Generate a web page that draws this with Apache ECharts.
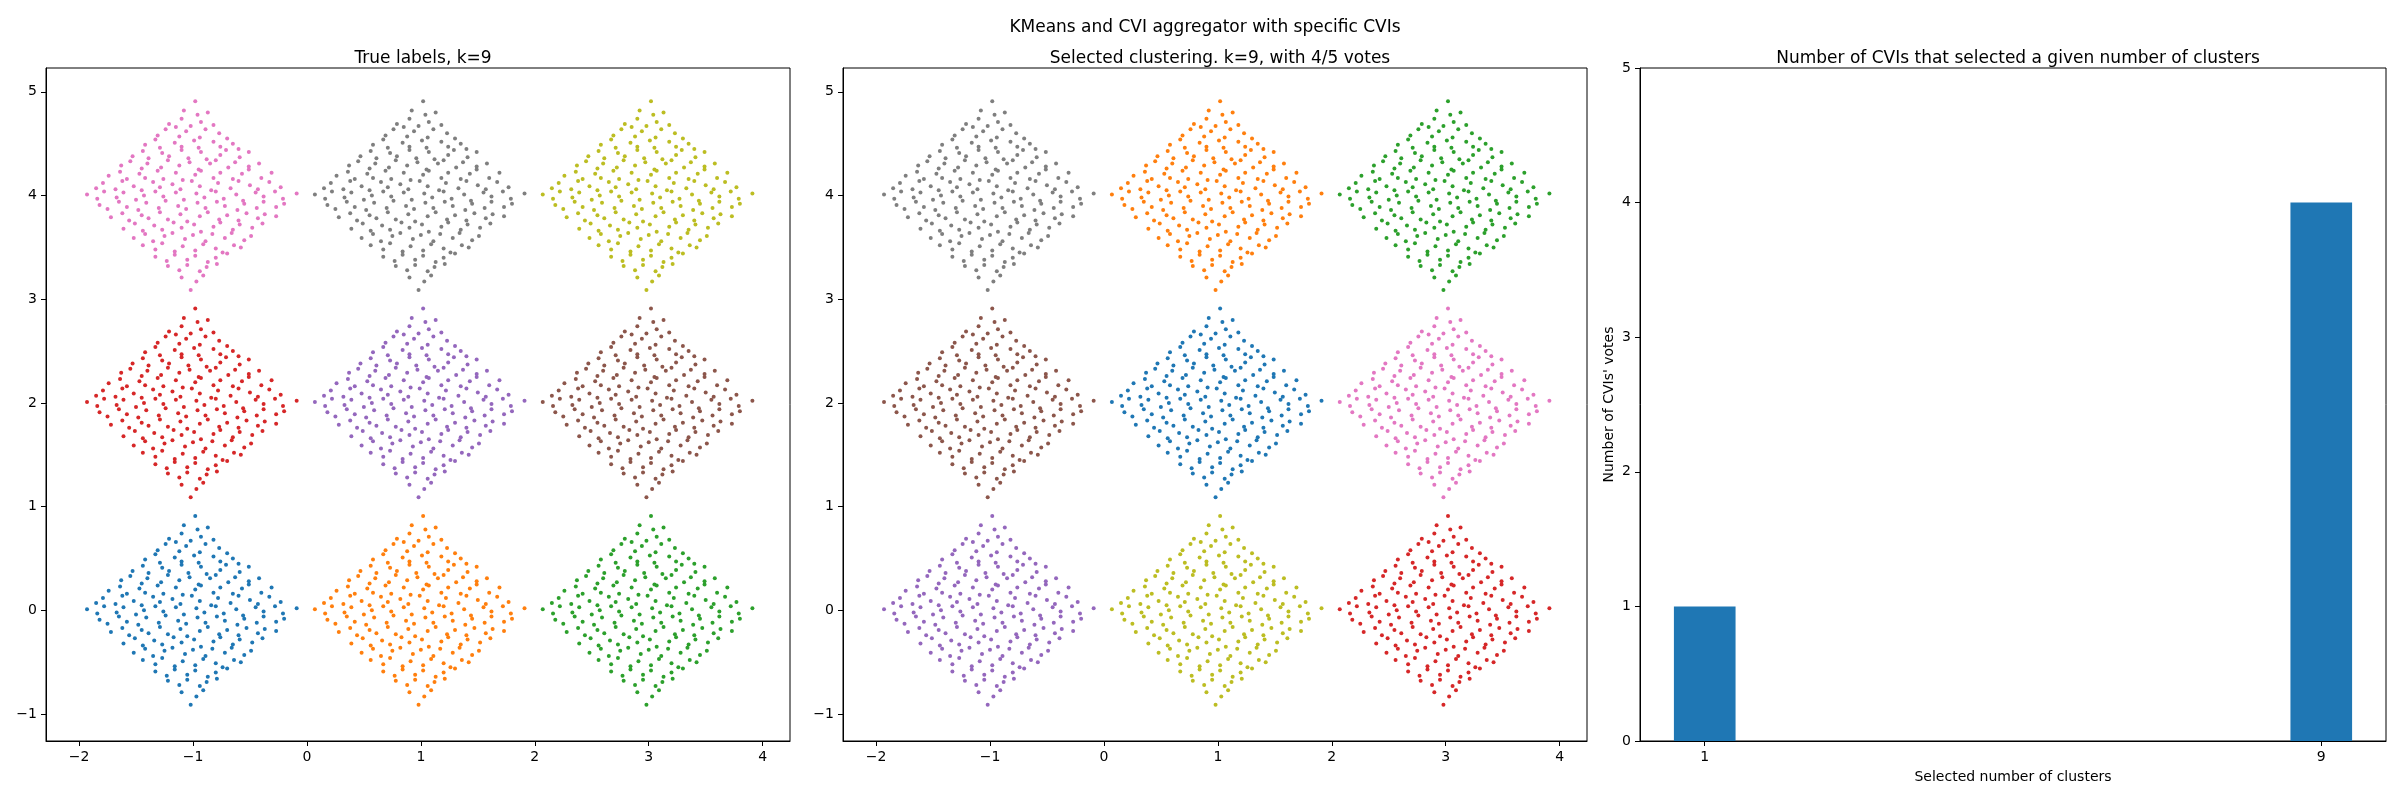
<!DOCTYPE html>
<html>
<head>
<meta charset="utf-8">
<script src="https://cdn.jsdelivr.net/npm/echarts@6/dist/echarts.min.js"></script>
<style>
html, body { margin: 0; padding: 0; background: #fff; }
#main { width: 2400px; height: 800px; }
</style>
</head>
<body>
<div id="main"></div>
<script>
// cluster centres (blobs are diamond shaped, same spread for each)
var centerX = [-1, 1, 3, -1, 1, 3, -1, 1, 3];
var centerY = [4, 4, 4, 2, 2, 2, 0, 0, 0];
// label of each blob: true labels / labels chosen by kmeans
var trueLabels = [6, 7, 8, 3, 4, 5, 0, 1, 2];
var predLabels = [7, 1, 2, 5, 0, 6, 4, 8, 3];
// offsets of the points inside one blob
var blobOffsets = [
  [0.02,0.91],
  [-0.08,0.82],[0.04,0.78],[0.13,0.8],
  [-0.21,0.69],[-0.1,0.74],[-0.02,0.67],[0.07,0.71],[0.18,0.68],[-0.15,0.66],
  [-0.31,0.58],[-0.24,0.64],[-0.12,0.57],[-0.06,0.62],[0.06,0.56],[0.11,0.64],[0.23,0.6],[0.3,0.55],
  [-0.42,0.49],[-0.33,0.54],[-0.29,0.46],[-0.16,0.51],[-0.1,0.47],[0.01,0.53],[0.05,0.46],[0.18,0.52],[0.24,0.47],[0.35,0.5],[0.4,0.45],
  [-0.53,0.38],[-0.44,0.43],[-0.39,0.36],[-0.27,0.41],[-0.21,0.38],[-0.1,0.44],[-0.04,0.36],[0.07,0.42],[0.12,0.35],[0.24,0.39],[0.29,0.44],[0.41,0.37],[0.49,0.42],
  [-0.63,0.29],[-0.55,0.33],[-0.45,0.26],[-0.4,0.31],[-0.28,0.27],[-0.22,0.34],[-0.12,0.29],[-0.03,0.32],[0.05,0.25],[0.15,0.31],[0.2,0.34],[0.31,0.27],[0.37,0.32],[0.49,0.28],[0.58,0.31],
  [-0.74,0.19],[-0.64,0.23],[-0.58,0.16],[-0.47,0.21],[-0.42,0.17],[-0.31,0.24],[-0.26,0.16],[-0.15,0.22],[-0.09,0.15],[0.02,0.2],[0.07,0.24],[0.18,0.17],[0.24,0.22],[0.35,0.16],[0.43,0.21],[0.49,0.25],[0.6,0.17],[0.69,0.22],
  [-0.85,0.07],[-0.79,0.12],[-0.68,0.06],[-0.62,0.14],[-0.52,0.09],[-0.45,0.05],[-0.35,0.13],[-0.29,0.08],[-0.18,0.11],[-0.11,0.06],[-0.01,0.14],[0.06,0.09],[0.16,0.05],[0.22,0.12],[0.33,0.07],[0.4,0.14],[0.5,0.1],[0.57,0.06],[0.67,0.13],[0.77,0.08],
  [-0.93,0.01],[-0.84,-0.03],[-0.78,0.04],[-0.67,-0.02],[-0.61,0.03],[-0.5,-0.04],[-0.43,0.0],[-0.33,0.04],[-0.26,-0.01],[-0.15,0.03],[-0.08,-0.04],[0.03,0.02],[0.1,-0.02],[0.2,0.04],[0.27,-0.03],[0.38,0.01],[0.44,-0.05],[0.55,0.03],[0.62,-0.01],[0.72,0.04],[0.79,-0.03],[0.91,0.02],
  [-0.82,-0.09],[-0.75,-0.13],[-0.65,-0.06],[-0.58,-0.11],[-0.48,-0.14],[-0.41,-0.07],[-0.3,-0.12],[-0.24,-0.05],[-0.13,-0.1],[-0.06,-0.13],[0.04,-0.07],[0.11,-0.12],[0.21,-0.06],[0.28,-0.1],[0.39,-0.14],[0.45,-0.08],[0.56,-0.12],[0.62,-0.06],[0.73,-0.11],[0.8,-0.08],
  [-0.72,-0.21],[-0.62,-0.17],[-0.56,-0.24],[-0.45,-0.19],[-0.39,-0.22],[-0.29,-0.16],[-0.22,-0.23],[-0.11,-0.18],[-0.05,-0.25],[0.06,-0.2],[0.13,-0.16],[0.23,-0.23],[0.3,-0.19],[0.4,-0.24],[0.47,-0.17],[0.57,-0.22],[0.63,-0.18],[0.73,-0.2],
  [-0.61,-0.32],[-0.51,-0.27],[-0.44,-0.34],[-0.34,-0.29],[-0.27,-0.33],[-0.17,-0.26],[-0.1,-0.31],[0.01,-0.28],[0.07,-0.35],[0.18,-0.3],[0.24,-0.26],[0.35,-0.33],[0.41,-0.28],[0.52,-0.31],[0.61,-0.27],
  [-0.52,-0.41],[-0.42,-0.37],[-0.35,-0.44],[-0.25,-0.39],[-0.18,-0.36],[-0.07,-0.42],[0.0,-0.38],[0.11,-0.44],[0.17,-0.37],[0.28,-0.41],[0.34,-0.36],[0.45,-0.43],[0.51,-0.39],
  [-0.44,-0.48],[-0.33,-0.52],[-0.27,-0.46],[-0.16,-0.54],[-0.09,-0.49],[0.02,-0.53],[0.09,-0.47],[0.2,-0.51],[0.26,-0.55],[0.36,-0.48],[0.42,-0.5],
  [-0.33,-0.59],[-0.23,-0.63],[-0.16,-0.57],[-0.05,-0.62],[0.02,-0.58],[0.13,-0.64],[0.2,-0.6],[0.3,-0.56],
  [-0.22,-0.68],[-0.12,-0.72],[-0.05,-0.67],[0.06,-0.73],[0.12,-0.69],[0.21,-0.66],
  [-0.1,-0.79],[0.03,-0.83],[0.09,-0.77],
  [-0.02,-0.91]
];
// votes of the CVIs
var selectedK = [1, 9];
var votes = [1, 4];
// tick labels
var scatterXTicks = [-2, -1, 0, 1, 2, 3, 4];
var scatterYTicks = [-1, 0, 1, 2, 3, 4, 5];
var barXTicks = [1, 9];

var tab10 = ['#1f77b4', '#ff7f0e', '#2ca02c', '#d62728', '#9467bd',
             '#8c564b', '#e377c2', '#7f7f7f', '#bcbd22', '#17becf'];
var font = 'DejaVu Sans';

function minus(v) { return String(v).replace('-', '\u2212'); }

function blobPoints(i) {
  var pts = [];
  for (var j = 0; j < blobOffsets.length; j++) {
    pts.push([centerX[i] + blobOffsets[j][0], centerY[i] + blobOffsets[j][1]]);
  }
  return pts;
}

function valAxis(idx, min, max, ticks, extra) {
  var a = {
    type: 'value', gridIndex: idx, min: min, max: max,
    splitLine: { show: false },
    axisLine: { show: true, onZero: false, lineStyle: { color: '#000', width: 1 } },
    axisTick: { show: true, length: 5, customValues: ticks, lineStyle: { color: '#000' } },
    axisLabel: { customValues: ticks, formatter: minus, color: '#000', fontSize: 14, fontFamily: font, margin: 9 }
  };
  for (var k in extra) a[k] = extra[k];
  return a;
}

var grids = [
  { left: 46, top: 68, width: 744, height: 673 },
  { left: 843, top: 68, width: 744, height: 673 },
  { left: 1640, top: 68, width: 746, height: 673 }
];
grids.forEach(function (g) {
  g.show = true; g.borderColor = '#000'; g.borderWidth = 1; g.backgroundColor = '#fff';
});

var series = [];
[trueLabels, predLabels].forEach(function (labels, gi) {
  for (var i = 0; i < centerX.length; i++) {
    series.push({
      type: 'scatter', xAxisIndex: gi, yAxisIndex: gi,
      data: blobPoints(i), symbolSize: 4,
      itemStyle: { color: tab10[labels[i]], opacity: 1 },
      silent: true
    });
  }
});

var halfBar = 0.4;
series.push({
  type: 'custom', xAxisIndex: 2, yAxisIndex: 2,
  data: selectedK.map(function (k, i) { return [k, votes[i]]; }),
  renderItem: function (params, api) {
    var x = api.value(0), y = api.value(1);
    var p0 = api.coord([x - halfBar, y]);
    var p1 = api.coord([x + halfBar, 0]);
    return { type: 'rect', shape: { x: p0[0], y: p0[1], width: p1[0] - p0[0], height: p1[1] - p0[1] },
             style: { fill: tab10[0] } };
  }
});

var titleStyle = { color: '#000', fontSize: 17, fontWeight: 'normal', fontFamily: font };
var option = {
  animation: false,
  backgroundColor: '#fff',
  title: [
    { text: 'KMeans and CVI aggregator with specific CVIs', left: 1200, top: 14, textAlign: 'center', textStyle: titleStyle },
    { text: 'True labels, k=9', left: 418, top: 45, textAlign: 'center', textStyle: titleStyle },
    { text: 'Selected clustering. k=9, with 4/5 votes', left: 1215, top: 45, textAlign: 'center', textStyle: titleStyle },
    { text: 'Number of CVIs that selected a given number of clusters', left: 2013, top: 45, textAlign: 'center', textStyle: titleStyle }
  ],
  grid: grids,
  xAxis: [
    valAxis(0, -2.29, 4.24, scatterXTicks, {}),
    valAxis(1, -2.29, 4.24, scatterXTicks, {}),
    valAxis(2, 0.16, 9.84, barXTicks, {
      name: 'Selected number of clusters', nameLocation: 'middle', nameGap: 29,
      nameTextStyle: { color: '#000', fontSize: 14, fontFamily: font }
    })
  ],
  yAxis: [
    valAxis(0, -1.26, 5.23, scatterYTicks, {}),
    valAxis(1, -1.26, 5.23, scatterYTicks, {}),
    valAxis(2, 0, 5, [0, 1, 2, 3, 4, 5], {
      name: "Number of CVIs' votes", nameLocation: 'middle', nameGap: 24, nameRotate: 90,
      nameTextStyle: { color: '#000', fontSize: 14, fontFamily: font }
    })
  ],
  series: series
};

var chart = echarts.init(document.getElementById('main'));
chart.setOption(option);
</script>
</body>
</html>
